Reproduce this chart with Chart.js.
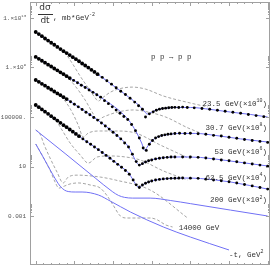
<!DOCTYPE html>
<html>
<head>
<meta charset="utf-8">
<script src="https://cdn.jsdelivr.net/npm/chart.js@4/dist/chart.umd.min.js"></script>
<style>
  html, body { margin: 0; padding: 0; background: #fff; }
  canvas { display: block; }
</style>
</head>
<body>
<canvas id="chart" width="273" height="273"></canvas>
<script>
// --- DATA (dsigma/dt in mb/GeV^2, already multiplied by the factor shown in each label) ---

// measured points
const dataT235 = [0, 0.04, 0.08, 0.12, 0.16, 0.20, 0.24, 0.28, 0.32, 0.36, 0.40, 0.44, 0.48, 0.52, 0.56, 0.60, 0.64, 0.68, 0.72, 0.76, 0.80,
  0.86, 0.92, 0.98, 1.04, 1.10, 1.16, 1.22, 1.28, 1.33, 1.38, 1.42, 1.47, 1.52, 1.56, 1.60, 1.64, 1.68, 1.72, 1.76, 1.80,
  1.85, 1.90, 1.96, 2.05, 2.15, 2.25, 2.35, 2.45, 2.55, 2.65, 2.75, 2.85, 2.95];
const dataV235 = [7.4e11, 5.0e11, 3.4e11, 2.2e11, 1.5e11, 1.0e11, 6.9e10, 4.6e10, 3.1e10, 2.1e10, 1.45e10, 1.0e10, 6.8e9, 4.7e9, 3.2e9, 2.1e9, 1.45e9, 9.8e8, 6.5e8, 4.4e8, 2.9e8,
  1.6e8, 8.5e7, 4.5e7, 2.3e7, 1.2e7, 6.5e6, 3.3e6, 1.6e6, 8.0e5, 4.2e5, 1.0e5, 1.8e5, 2.6e5, 3.5e5, 4.3e5, 4.9e5, 5.2e5, 5.6e5, 5.8e5, 6.0e5,
  5.9e5, 6.3e5, 5.8e5, 5.5e5, 4.8e5, 4.2e5, 3.5e5, 2.9e5, 2.4e5, 2.0e5, 1.6e5, 1.3e5, 1.07e5];

const dataT307 = [0, 0.04, 0.08, 0.12, 0.16, 0.20, 0.24, 0.28, 0.32, 0.36, 0.40, 0.44,
  0.49, 0.54, 0.59, 0.64, 0.69, 0.74, 0.79, 0.84, 0.89, 0.94, 0.99, 1.04, 1.09, 1.14, 1.19, 1.24, 1.29, 1.34, 1.39, 1.43,
  1.47, 1.51, 1.55, 1.59, 1.63, 1.67, 1.71, 1.75, 1.80, 1.86, 1.93, 2.00, 2.10, 2.20, 2.30, 2.40, 2.50, 2.60, 2.70, 2.80, 2.90, 3.00];
const dataV307 = [7.1e9, 5.0e9, 3.5e9, 2.45e9, 1.7e9, 1.2e9, 8.3e8, 5.9e8, 4.1e8, 2.9e8, 2.0e8, 1.4e8,
  9.1e7, 5.9e7, 3.7e7, 2.4e7, 1.5e7, 9.8e6, 6.3e6, 4.0e6, 2.1e6, 1.2e6, 6.6e5, 3.6e5, 2.0e5, 1.1e5, 6.3e4, 2.5e4, 7.9e3, 2.0e3, 316, 200,
  630, 1260, 2000, 2600, 3200, 3600, 4000, 4300, 4600, 4800, 4600, 4800, 4400, 4000, 3300, 2900, 2300, 1900, 1500, 1260, 1070, 890];

const dataT53 = [0, 0.04, 0.08, 0.12, 0.16, 0.20, 0.24, 0.28, 0.32, 0.36, 0.40,
  0.45, 0.50, 0.55, 0.60, 0.65, 0.70, 0.75, 0.80, 0.85, 0.90, 0.95, 1.00, 1.05, 1.10, 1.15, 1.20, 1.25, 1.30, 1.34, 1.38,
  1.42, 1.46, 1.50, 1.55, 1.60, 1.65, 1.70, 1.75, 1.80, 1.90, 2.00, 2.10, 2.20, 2.30, 2.40, 2.50, 2.60, 2.70, 2.80, 2.90, 3.00];
const dataV53 = [9.8e7, 6.9e7, 4.8e7, 3.4e7, 2.3e7, 1.66e7, 1.15e7, 8.1e6, 5.8e6, 4.0e6, 2.8e6,
  1.7e6, 1.07e6, 6.6e5, 4.0e5, 2.45e5, 1.5e5, 9.1e4, 5.6e4, 3.3e4, 1.9e4, 1.05e4, 5.8e3, 3.2e3, 1.7e3, 790, 380, 100, 25, 13, 17,
  23, 29, 34, 41, 46, 51, 55, 58, 59, 59, 58, 55, 48, 40, 34, 29, 24, 19.5, 16, 13, 10.7];

const dataT625 = [0, 0.04, 0.08, 0.12, 0.16, 0.20, 0.24, 0.28, 0.32, 0.36, 0.40, 0.44, 0.48, 0.52, 0.56,
  0.61, 0.66, 0.71, 0.76, 0.81, 0.86, 0.91, 0.96, 1.01, 1.06, 1.11, 1.16, 1.21, 1.26, 1.30, 1.34, 1.38, 1.42, 1.46, 1.50,
  1.55, 1.60, 1.65, 1.70, 1.75, 1.80, 1.85, 1.90, 2.00, 2.10, 2.20, 2.30, 2.40, 2.50, 2.60, 2.70, 2.80, 2.90, 3.00];
const dataV625 = [9.3e5, 6.2e5, 4.1e5, 2.7e5, 1.8e5, 1.17e5, 7.8e4, 5.1e4, 3.4e4, 2.2e4, 1.5e4, 9.8e3, 6.5e3, 4.3e3, 2.8e3,
  1.7e3, 1.0e3, 620, 380, 230, 135, 79, 46, 26, 15, 8.7, 4.8, 2.4, 0.81, 0.33, 0.20, 0.32, 0.44, 0.56, 0.68,
  0.81, 0.91, 1.0, 1.05, 1.1, 1.12, 1.15, 1.17, 1.15, 1.1, 0.95, 0.81, 0.69, 0.58, 0.46, 0.35, 0.27, 0.20, 0.15];

// model curves (blue)
const fitT235 = [0, 0.32, 0.575, 0.835, 1.03, 1.2, 1.33, 1.39, 1.445, 1.5, 1.56, 1.65, 1.81, 2.0, 2.26, 2.52, 2.78, 3.0];
const fitV235 = [7.4e11, 3.1e10, 2.75e9, 2.0e8, 2.6e7, 4.2e6, 9.3e5, 3.7e5, 1.74e5, 2.5e5, 3.7e5, 4.9e5, 5.9e5, 5.9e5, 4.1e5, 2.5e5, 1.6e5, 1.0e5];
const fitT307 = [0, 0.42, 0.835, 1.2, 1.3, 1.37, 1.41, 1.45, 1.5, 1.575, 1.68, 1.87, 2.07, 2.33, 2.65, 3.0];
const fitV307 = [7.1e9, 1.7e8, 4.2e6, 5.8e4, 6.2e3, 790, 210, 460, 1150, 2400, 3500, 4700, 4700, 3200, 1700, 950];
const fitT53 = [0, 0.42, 0.835, 1.09, 1.2, 1.26, 1.31, 1.34, 1.38, 1.45, 1.55, 1.68, 1.87, 2.13, 2.46, 3.0];
const fitV53 = [9.8e7, 2.3e6, 4.0e4, 2000, 380, 71, 19, 13, 17, 28, 41, 54, 59, 54, 31, 11];
const fitT625 = [0, 0.575, 0.835, 1.09, 1.2, 1.26, 1.31, 1.34, 1.38, 1.46, 1.59, 1.74, 1.94, 2.13, 2.52, 3.0];
const fitV625 = [9.3e5, 2400, 180, 11, 3.0, 0.81, 0.26, 0.20, 0.32, 0.56, 0.89, 1.07, 1.17, 1.07, 0.56, 0.15];
const fitT200 = [0, 0.38, 0.77, 0.99, 1.07, 1.15, 1.25, 1.48, 1.74, 2.0, 2.52, 3.0];
const fitV200 = [8900, 112, 1.17, 0.095, 0.046, 0.032, 0.028, 0.028, 0.018, 0.010, 0.003, 0.001];
const fitT14000 = [0, 0.095, 0.225, 0.315, 0.37, 0.42, 0.51, 0.6, 0.81, 0.965, 1.225, 1.65, 2.0, 2.5];
const fitV14000 = [660, 59, 2.0, 0.26, 0.126, 0.095, 0.087, 0.087, 0.05, 0.016, 0.0021, 1.3e-4, 2.0e-5, 1.8e-6];

// dashed component curves
const dashT235 = [0, 0.32, 0.39, 0.47, 0.575, 0.68, 0.76, 0.81, 0.86, 0.97, 1.095, 1.25, 1.42, 1.65, 2.0, 2.225];
const dashV235 = [7.4e11, 3.1e10, 1.2e10, 2.3e9, 2.0e8, 2.2e7, 4.2e6, 1.95e6, 3.4e6, 1.05e7, 2.0e7, 2.6e7, 1.8e7, 5.0e6, 1.35e6, 6.5e5];
const dashT307 = [0, 0.34, 0.42, 0.51, 0.64, 0.73, 0.8, 0.875, 1.06, 1.26, 1.48, 1.68, 1.97, 2.13];
const dashV307 = [7.1e9, 3.6e8, 1.4e8, 3.2e7, 2.3e6, 2.5e5, 5.8e4, 1.0e5, 2.5e5, 3.7e5, 2.3e5, 1.0e5, 1.3e4, 5100];
const dashT53 = [0, 0.29, 0.39, 0.47, 0.55, 0.615, 0.68, 0.835, 1.03, 1.29, 1.61, 2.0];
const dashV53 = [9.8e7, 7.2e6, 1.6e6, 2.5e5, 2.2e4, 2400, 5100, 7400, 7400, 5100, 550, 41];
const dashT625 = [0, 0.185, 0.265, 0.34, 0.445, 0.575, 0.68, 0.795, 0.965, 1.16, 1.355, 1.65, 1.965];
const dashV625 = [9.3e5, 1.45e5, 4.8e4, 8900, 790, 85, 19, 59, 71, 59, 33, 4.4, 0.81];
const dashT200 = [0, 0.055, 0.11, 0.185, 0.275, 0.355, 0.42, 0.535, 0.835, 1.03, 1.48, 1.965];
const dashV200 = [8900, 4300, 550, 49, 3.6, 0.47, 1.4, 2.0, 1.4, 0.81, 0.126, 6.9e-4];
const dashT14000 = [0, 0.095, 0.185, 0.25, 0.3, 0.37, 0.445, 0.55, 0.705, 0.835, 0.925, 1.0, 1.095, 1.185, 1.355, 1.485, 1.575, 1.68, 1.77];
const dashV14000 = [660, 59, 5.2, 0.56, 0.18, 0.26, 0.39, 0.47, 0.32, 0.18, 0.042, 0.0078, 0.001, 6.9e-4, 6.9e-4, 6.9e-4, 4.8e-4, 1.9e-4, 1.3e-4];

// labels
const energyNames = ['23.5 GeV', '30.7 GeV', '53 GeV', '62.5 GeV', '200 GeV', '14000 GeV'];
const energyPowers = ['10', '8', '6', '4', '2', null];
const yTickValues = [1e-3, 10, 1e5, 1e9, 1e13];
const yTickLabels = [['0.001'], ['10'], ['100000.'], ['1.×10', '9'], ['1.×10', '13']];
const xTickValues = [0, 0.5, 1, 1.5, 2, 2.5, 3];
const xTickLabels = ['0', '0.5', '1', '1.5', '2', '2.5', '3'];

// --- STYLE ---
const MONO = "'Liberation Mono', 'DejaVu Sans Mono', monospace";
const BLUE = 'rgb(112, 112, 245)';
const DASH = '#8e8e8e';

// where the labels sit, in axis units (t, dsigma/dt)
const labelAnchors = [[2.99, 1.1e6], [2.99, 1.3e4], [2.99, 150], [2.99, 1.2], [2.99, 0.018], [1.85, 1.07e-4]];
// last t of the densely measured part of each set
const denseEnds = [0.81, 0.45, 0.41, 0.57];

function pts(ts, vs) {
    return ts.map((t, i) => ({ x: t, y: vs[i] }));
}

function pointSet(ts, vs, denseEnd) {
    return {
        data: pts(ts, vs), showLine: false, order: 0,
        pointRadius: c => (c.raw && c.raw.x <= denseEnd ? 1.9 : 1.45),
        pointBackgroundColor: '#000', pointBorderWidth: 0, pointHoverRadius: 0
    };
}
function fitSet(ts, vs) {
    return {
        data: pts(ts, vs), showLine: true, order: 1, pointRadius: 0,
        borderColor: BLUE, borderWidth: 1, cubicInterpolationMode: 'monotone'
    };
}
function dashSet(ts, vs) {
    return {
        data: pts(ts, vs), showLine: true, order: 2, pointRadius: 0,
        borderColor: DASH, borderWidth: 0.8, borderDash: [3, 2], cubicInterpolationMode: 'monotone'
    };
}

// text with a raised exponent part
function drawRich(ctx, parts, x, y, align, size) {
    size = size || 7.5;
    const base = size + 'px ' + MONO, sup = (size * 0.66) + 'px ' + MONO;
    let w = 0;
    parts.forEach(p => { ctx.font = p.sup ? sup : base; w += ctx.measureText(p.s).width; });
    let cx = align === 'right' ? x - w : x;
    ctx.textAlign = 'left';
    ctx.textBaseline = 'middle';
    parts.forEach(p => {
        ctx.font = p.sup ? sup : base;
        ctx.fillText(p.s, cx, p.sup ? y - size * 0.4 : y);
        cx += ctx.measureText(p.s).width;
    });
}

const overlay = {
    id: 'overlay',
    afterDraw(chart) {
        const { ctx, chartArea: a, scales: { x, y } } = chart;
        ctx.save();
        // frame
        ctx.strokeStyle = '#a0a0a0';
        ctx.lineWidth = 1;
        ctx.strokeRect(a.left + 0.5, a.top + 0.5, a.right - a.left - 1, a.bottom - a.top - 1);
        ctx.beginPath();
        for (let i = 0; i <= 30; i++) {
            const px = Math.round(x.getPixelForValue(i / 10)) + 0.5;
            const len = i % 5 === 0 ? 4 : 2;
            ctx.moveTo(px, a.bottom); ctx.lineTo(px, a.bottom - len);
            ctx.moveTo(px, a.top); ctx.lineTo(px, a.top + len);
        }
        yTickValues.forEach(m => {
            for (let k = 1; k <= 9; k++) {
                const py = Math.round(y.getPixelForValue(m * k)) + 0.5;
                const len = k === 1 ? 4 : 2;
                ctx.moveTo(a.left, py); ctx.lineTo(a.left + len, py);
                ctx.moveTo(a.right, py); ctx.lineTo(a.right - len, py);
            }
        });
        ctx.stroke();

        // y tick labels
        ctx.fillStyle = '#555';
        yTickValues.forEach((v, i) => {
            const lab = yTickLabels[i];
            const parts = lab.length > 1 ? [{ s: lab[0] }, { s: lab[1], sup: true }] : [{ s: lab[0] }];
            drawRich(ctx, parts, a.left - 4, y.getPixelForValue(v), 'right', 6);
        });

        ctx.fillStyle = '#333';
        // energy labels
        energyNames.forEach((name, i) => {
            const [t, v] = labelAnchors[i];
            const px = x.getPixelForValue(t), py = y.getPixelForValue(v);
            const pw = energyPowers[i];
            const parts = pw ? [{ s: name + '(×10' }, { s: pw, sup: true }, { s: ')' }] : [{ s: name }];
            drawRich(ctx, parts, px, py, pw ? 'right' : 'left');
        });
        // process and axis labels
        drawRich(ctx, [{ s: 'p p → p p' }], x.getPixelForValue(1.49), y.getPixelForValue(7e9), 'left');
        drawRich(ctx, [{ s: '-t, GeV' }, { s: '2', sup: true }], x.getPixelForValue(2.5), y.getPixelForValue(7e-7), 'left');

        // vertical axis title: d sigma / d t, mb*GeV^-2
        const tx = a.left + 8;
        ctx.font = "9px 'DejaVu Sans', sans-serif";
        ctx.textAlign = 'center';
        ctx.textBaseline = 'middle';
        ctx.fillText('dσ', tx + 7, a.top + 6);
        ctx.fillText('dt', tx + 7, a.top + 19);
        ctx.beginPath();
        ctx.strokeStyle = '#333';
        ctx.moveTo(tx, a.top + 12.5); ctx.lineTo(tx + 15, a.top + 12.5);
        ctx.stroke();
        drawRich(ctx, [{ s: ', mb*GeV' }, { s: '-2', sup: true }], tx + 15, a.top + 16, 'left');
        ctx.restore();
    }
};

new Chart(document.getElementById('chart'), {
    type: 'scatter',
    data: {
        datasets: [
            pointSet(dataT235, dataV235, denseEnds[0]), pointSet(dataT307, dataV307, denseEnds[1]),
            pointSet(dataT53, dataV53, denseEnds[2]), pointSet(dataT625, dataV625, denseEnds[3]),
            fitSet(fitT235, fitV235), fitSet(fitT307, fitV307), fitSet(fitT53, fitV53),
            fitSet(fitT625, fitV625), fitSet(fitT200, fitV200), fitSet(fitT14000, fitV14000),
            dashSet(dashT235, dashV235), dashSet(dashT307, dashV307), dashSet(dashT53, dashV53),
            dashSet(dashT625, dashV625), dashSet(dashT200, dashV200), dashSet(dashT14000, dashV14000)
        ]
    },
    options: {
        responsive: false,
        animation: false,
        devicePixelRatio: 1,
        layout: { padding: { top: 2, right: 3, left: 0, bottom: 0 } },
        plugins: { legend: { display: false }, tooltip: { enabled: false } },
        scales: {
            x: {
                type: 'linear', min: -0.074, max: 3.03,
                grid: { display: false }, border: { display: false },
                afterBuildTicks: s => { s.ticks = xTickValues.map(v => ({ value: v })); },
                afterFit: s => { s.height = 8; },
                ticks: {
                    padding: 1, maxRotation: 0, color: '#555', font: { family: MONO, size: 7 },
                    callback: v => xTickLabels[xTickValues.indexOf(v)]
                }
            },
            y: {
                type: 'logarithmic', min: 1.1e-7, max: 1.96e14,
                grid: { display: false, drawTicks: false }, border: { display: false },
                afterBuildTicks: s => { s.ticks = yTickValues.map(v => ({ value: v })); },
                afterFit: s => { s.width = 30; },
                ticks: { display: false }
            }
        }
    },
    plugins: [overlay]
});
</script>
</body>
</html>
